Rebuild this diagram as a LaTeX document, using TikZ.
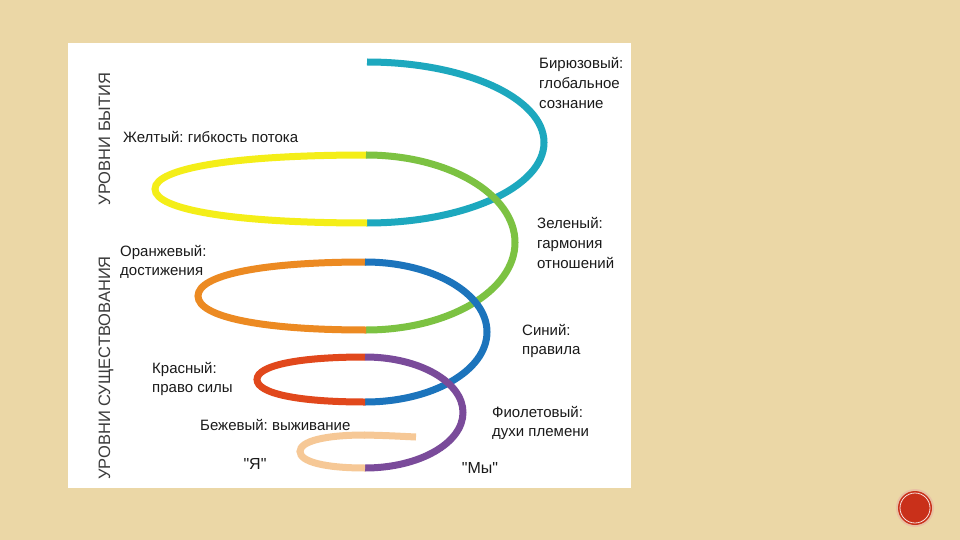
\documentclass[tikz,border=0pt]{standalone}
\usepackage{fontspec}
\setmainfont{Liberation Sans}[Ligatures=TeXOff]
\frenchspacing
\definecolor{bgc}{HTML}{EBD7A6}
\definecolor{cteal}{HTML}{1DA8BE}
\definecolor{cyel}{HTML}{F4EE18}
\definecolor{cgreen}{HTML}{7CC242}
\definecolor{corange}{HTML}{EC8A22}
\definecolor{cblue}{HTML}{1C74BC}
\definecolor{cred}{HTML}{E1481C}
\definecolor{cpurple}{HTML}{7A4B9A}
\definecolor{cbeige}{HTML}{F6C896}
\definecolor{ctext}{HTML}{1A1A1A}
\definecolor{cdot}{HTML}{C9301A}
% right half-turn: colour, x0, ytop, ybottom, xright
\newcommand{\sprightarc}[5]{%
  \pgfmathsetmacro\spym{(#3+#4)/2}%
  \pgfmathsetmacro\spry{(#4-#3)/2}%
  \pgfmathsetmacro\sprx{#5-#2}%
  \draw[seg,#1] (#2,#3) .. controls ({#2+0.552*\sprx},#3) and (#5,{\spym-0.552*\spry}) .. (#5,\spym)
     .. controls (#5,{\spym+0.552*\spry}) and ({#2+0.552*\sprx},#4) .. (#2,#4);}
% left half-turn: colour, x0, ytop, ybottom, xleft
\newcommand{\spleftarc}[5]{%
  \pgfmathsetmacro\spym{(#3+#4)/2}%
  \pgfmathsetmacro\spry{(#4-#3)/2}%
  \pgfmathsetmacro\sprx{#2-#5}%
  \draw[seg,#1] (#2,#4) .. controls ({#2-0.62*\sprx},#4) and (#5,{\spym+0.62*\spry}) .. (#5,\spym)
     .. controls (#5,{\spym-0.62*\spry}) and ({#2-0.62*\sprx},#3) .. (#2,#3);}
\begin{document}
\begin{tikzpicture}[x=1pt,y=-1pt,
  seg/.style={line width=7pt,line cap=butt},
  lbl/.style={font=\fontsize{15}{18}\selectfont,text=ctext,anchor=base west,inner sep=0pt},
  side/.style={font=\fontsize{16.5}{19}\selectfont,text=ctext!85,anchor=base,inner sep=0pt,rotate=90},
  quote/.style={font=\fontsize{16}{19}\selectfont,text=ctext,anchor=base,inner sep=0pt}]
\useasboundingbox (0,0) rectangle (960,540);
\fill[bgc] (0,0) rectangle (960,540);
\fill[white] (68,43) rectangle (631,488);
% spiral, top to bottom
\sprightarc{cteal}{367}{62}{223}{544}
\spleftarc{cyel}{367}{155}{223}{155}
\sprightarc{cgreen}{366}{155}{330}{515}
\spleftarc{corange}{366}{262}{330}{198}
\sprightarc{cblue}{365}{262}{402}{487}
\spleftarc{cred}{365}{357}{402}{257}
\sprightarc{cpurple}{365}{357}{468}{463}
\spleftarc{cbeige}{365}{435}{468}{300}
\draw[seg,cbeige] (364,435) .. controls (385,435.5) .. (416,437);
% labels
\node[lbl] (yel) at (123,143) {Желтый: гибкость потока};
\node[lbl] (or1) at (120,256) {Оранжевый:};
\node[lbl] (or2) at (120,275) {достижения};
\node[lbl] (re1) at (152,373) {Красный:};
\node[lbl] (re2) at (152,392) {право силы};
\node[lbl] (be1) at (200,430) {Бежевый: выживание};
\node[quote] (ya) at (255,469) {"Я"};
\node[quote] (my) at (480,473) {"Мы"};
\node[lbl] (pu1) at (492,417) {Фиолетовый:};
\node[lbl] (pu2) at (492,436) {духи племени};
\node[lbl] (bl1) at (522,335) {Синий:};
\node[lbl] (bl2) at (522,354) {правила};
\node[lbl] (gr1) at (537,228) {Зеленый:};
\node[lbl] (gr2) at (537,248) {гармония};
\node[lbl] (gr3) at (537,268) {отношений};
\node[lbl] (te1) at (539,69) {Бирюзовый:};
\node[lbl] (te2) at (539,89) {глобальное};
\node[lbl] (te3) at (539,109) {сознание};
\node[side] (lvb) at (110,139) {УРОВНИ БЫТИЯ};
\node[side] (lvs) at (110,368) {УРОВНИ СУЩЕСТВОВАНИЯ};
% page badge
\fill[cdot!40,opacity=0.5] (915,508) circle (19);
\fill[cdot] (915,508) circle (17);
\draw[white!85!cdot,line width=0.8pt] (915,508) circle (15);
\end{tikzpicture}
\end{document}
